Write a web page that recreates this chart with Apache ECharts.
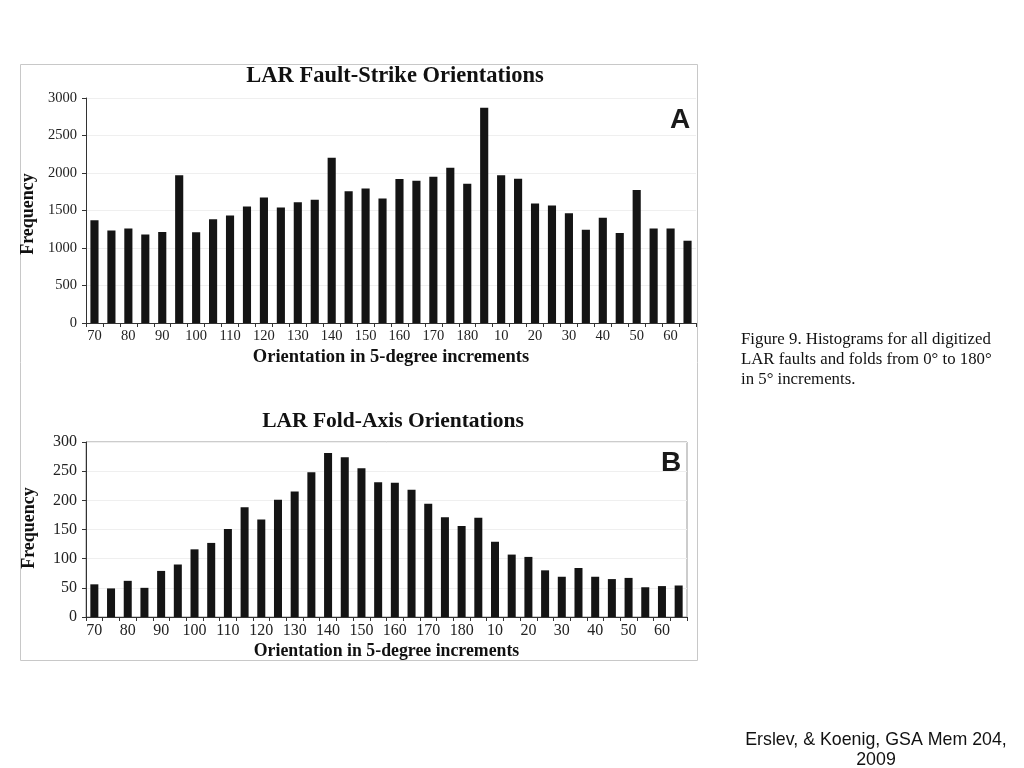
<!DOCTYPE html>
<html>
<head>
<meta charset="utf-8">
<script src="https://cdn.jsdelivr.net/npm/echarts@6/dist/echarts.min.js"></script>
<style>
html,body{margin:0;padding:0;background:#fff;}
#c{width:1024px;height:768px;}
</style>
</head>
<body>
<div id="c"></div>
<script>
var categories = ['70','75','80','85','90','95','100','105','110','115','120','125','130','135','140','145','150','155','160','165','170','175','180','5','10','15','20','25','30','35','40','45','50','55','60','65'];
var faultStrike = [1370,1235,1260,1180,1215,1970,1210,1385,1435,1555,1675,1540,1610,1645,2205,1757,1792,1660,1920,1898,1951,2071,1858,2870,1969,1925,1593,1566,1465,1243,1403,1199,1774,1261,1261,1097];
var foldAxis = [56,49,62,50,79,90,116,127,151,188,167,201,215,248,281,274,255,231,230,218,194,171,156,170,129,107,103,80,69,84,69,65,67,51,53,54];
var yTicksA = {min:0, max:3000, interval:500};
var yTicksB = {min:0, max:300, interval:50};

var serif = '"Liberation Serif", "DejaVu Serif", serif';
var sans = '"Liberation Sans", Arial, sans-serif';

function xAxis(gridIndex, fontSize, nameSize){
  return {
    type:'category', gridIndex:gridIndex, data:categories,
    name:'Orientation in 5-degree increments', nameLocation:'middle', nameGap:25,
    nameTextStyle:{fontFamily:serif, fontWeight:'bold', fontSize:nameSize, color:'#111'},
    axisLine:{lineStyle:{color:'#333', width:1}},
    axisTick:{show:true, interval:0, length:4, lineStyle:{color:'#333'}},
    axisLabel:{interval:1, fontFamily:serif, fontSize:fontSize, color:'#222', margin:6},
    splitLine:{show:false}
  };
}
function yAxis(gridIndex, t, fontSize){
  return {
    type:'value', gridIndex:gridIndex, min:t.min, max:t.max, interval:t.interval,
    axisLine:{show:true, lineStyle:{color:'#333', width:1}},
    axisTick:{show:true, length:4, lineStyle:{color:'#333'}},
    axisLabel:{fontFamily:serif, fontSize:fontSize, color:'#222', margin:9, formatter:function(v){return String(v);}},
    splitLine:{show:true, lineStyle:{color:'#efefef', width:1}}
  };
}

var chart = echarts.init(document.getElementById('c'), null, {renderer:'canvas'});
chart.setOption({
  animation:false,
  backgroundColor:'#fff',
  grid:[
    {left:86, top:98, width:610, height:225},
    {left:86, top:442, width:601, height:175, show:true, borderColor:'#999', borderWidth:1, backgroundColor:'transparent'}
  ],
  xAxis:[xAxis(0,14.5,18.5), xAxis(1,16,17.8)],
  yAxis:[yAxis(0,yTicksA,14.5), yAxis(1,yTicksB,16)],
  series:[
    {type:'bar', xAxisIndex:0, yAxisIndex:0, data:faultStrike, barWidth:'48%', itemStyle:{color:'#141414'}},
    {type:'bar', xAxisIndex:1, yAxisIndex:1, data:foldAxis, barWidth:'48%', itemStyle:{color:'#141414'}}
  ],
  graphic:[
    {type:'rect', shape:{x:20.5, y:64.5, width:677, height:596}, style:{fill:'none', stroke:'#c8c8c8', lineWidth:1}, z:-1},
    {type:'text', x:395, y:76, style:{text:'LAR Fault-Strike Orientations', font:'bold 22.5px '+serif, fill:'#111', textAlign:'center', textVerticalAlign:'middle'}},
    {type:'text', x:393, y:421, style:{text:'LAR Fold-Axis Orientations', font:'bold 21.5px '+serif, fill:'#111', textAlign:'center', textVerticalAlign:'middle'}},
    {type:'text', x:28.5, y:214, rotation:Math.PI/2, style:{text:'Frequency', font:'bold 18px '+serif, fill:'#111', textAlign:'center', textVerticalAlign:'middle'}},
    {type:'text', x:29, y:528, rotation:Math.PI/2, style:{text:'Frequency', font:'bold 18px '+serif, fill:'#111', textAlign:'center', textVerticalAlign:'middle'}},
    {type:'text', x:680, y:120, style:{text:'A', font:'bold 28px '+sans, fill:'#1a1a1a', textAlign:'center', textVerticalAlign:'middle'}},
    {type:'text', x:671, y:463, style:{text:'B', font:'bold 28px '+sans, fill:'#1a1a1a', textAlign:'center', textVerticalAlign:'middle'}},
    {type:'text', x:741, y:340, style:{text:'Figure 9. Histograms for all digitized', font:'16.8px '+serif, fill:'#111', textVerticalAlign:'middle'}},
    {type:'text', x:741, y:360, style:{text:'LAR faults and folds from 0° to 180°', font:'16.8px '+serif, fill:'#111', textVerticalAlign:'middle'}},
    {type:'text', x:741, y:380, style:{text:'in 5° increments.', font:'16.8px '+serif, fill:'#111', textVerticalAlign:'middle'}},
    {type:'text', x:876, y:740, style:{text:'Erslev, & Koenig, GSA Mem 204,', font:'17.8px '+sans, fill:'#111', textAlign:'center', textVerticalAlign:'middle'}},
    {type:'text', x:876, y:760, style:{text:'2009', font:'17.8px '+sans, fill:'#111', textAlign:'center', textVerticalAlign:'middle'}}
  ]
});
</script>
</body>
</html>
